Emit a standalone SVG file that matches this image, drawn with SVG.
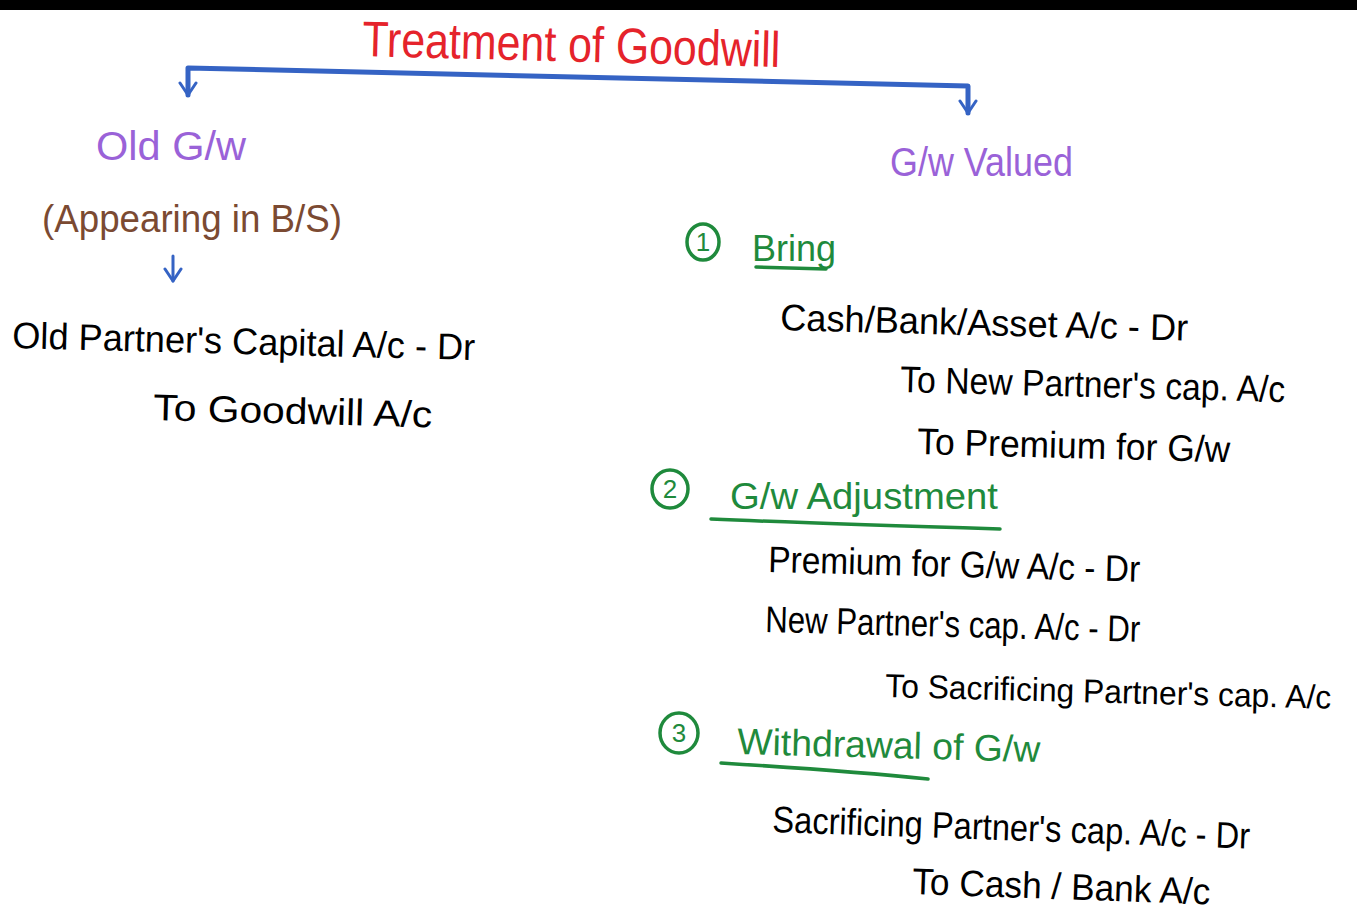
<svg xmlns="http://www.w3.org/2000/svg" width="1357" height="915" viewBox="0 0 1357 915">
  <style>
    text { font-family: "Liberation Sans", "DejaVu Sans", sans-serif; }
    .title { fill: #e5232b; font-size: 50px; }
    .head { fill: #9a62d8; font-size: 40px; }
    .note { fill: #7b4a32; font-size: 38px; }
    .entry { fill: #000; font-size: 37px; }
    .entry-long { fill: #000; font-size: 33px; }
    .step { fill: #1f8a3c; font-size: 37px; }
    .ring { fill: none; stroke: #1f8a3c; stroke-width: 3.5; }
    .rule { fill: none; stroke: #1f8a3c; stroke-width: 3.5; stroke-linecap: round; }
    .num { fill: #1f8a3c; font-size: 26px; text-anchor: middle; }
    .link { fill: none; stroke: #3563c4; stroke-width: 5; stroke-linecap: round; stroke-linejoin: round; }
    .link-thin { fill: none; stroke: #3563c4; stroke-width: 3; stroke-linecap: round; }
  </style>
  <defs>
    <marker id="vhead" viewBox="0 0 20 20" refX="17" refY="10" markerWidth="20" markerHeight="20" markerUnits="userSpaceOnUse" orient="auto-start-reverse">
      <polyline points="5,2 17,10 5,18" fill="none" stroke="#3563c4" stroke-width="3" stroke-linecap="round" stroke-linejoin="round"/>
    </marker>
  </defs>

  <rect x="0" y="0" width="1357" height="915" fill="#ffffff"/>
  <rect x="0" y="0" width="1357" height="10" fill="#000000"/>

  <!-- connectors -->
  <g id="connectors">
    <path class="link" d="M188,95 L188,68 L968,86 L968,113" marker-start="url(#vhead)" marker-end="url(#vhead)"/>
    <line class="link-thin" x1="173" y1="256" x2="173" y2="281" marker-end="url(#vhead)"/>
  </g>

  <g id="title">
    <text class="title" x="362" y="56" textLength="418" lengthAdjust="spacingAndGlyphs" transform="rotate(1.5 362 56)">Treatment of Goodwill</text>
  </g>

  <!-- left branch -->
  <g id="old-gw">
    <text class="head" x="96" y="160" textLength="150" lengthAdjust="spacingAndGlyphs">Old G/w</text>
    <text class="note" x="42" y="232" textLength="300" lengthAdjust="spacingAndGlyphs">(Appearing in B/S)</text>
  </g>
  <g id="old-entry">
    <text class="entry" x="12" y="348" textLength="463" lengthAdjust="spacingAndGlyphs" transform="rotate(1.5 12 348)">Old Partner's Capital A/c - Dr</text>
    <text class="entry" x="153" y="420" textLength="279" lengthAdjust="spacingAndGlyphs" transform="rotate(1.5 153 420)">To Goodwill A/c</text>
  </g>

  <!-- right branch -->
  <g id="gw-valued">
    <text class="head" x="890" y="176" textLength="183" lengthAdjust="spacingAndGlyphs">G/w Valued</text>
  </g>

  <g id="step-bring">
    <ellipse class="ring" cx="703" cy="242" rx="16" ry="18"/>
    <text class="num" x="703" y="251">1</text>
    <text class="step" x="752" y="261" textLength="84" lengthAdjust="spacingAndGlyphs">Bring</text>
    <line class="rule" x1="756" y1="267" x2="826" y2="269"/>
  </g>
  <g id="bring-entry">
    <text class="entry" x="780" y="330" textLength="408" lengthAdjust="spacingAndGlyphs" transform="rotate(1.5 780 330)">Cash/Bank/Asset A/c - Dr</text>
    <text class="entry" x="900" y="392" textLength="385" lengthAdjust="spacingAndGlyphs" transform="rotate(1.5 900 392)">To New Partner's cap. A/c</text>
    <text class="entry" x="917" y="454" textLength="313" lengthAdjust="spacingAndGlyphs" transform="rotate(1.5 917 454)">To Premium for G/w</text>
  </g>

  <g id="step-adjustment">
    <ellipse class="ring" cx="670" cy="489" rx="18" ry="19"/>
    <text class="num" x="670" y="498">2</text>
    <text class="step" x="730" y="509" textLength="268" lengthAdjust="spacingAndGlyphs">G/w Adjustment</text>
    <path class="rule" d="M711,519 Q800,523 1000,529"/>
  </g>
  <g id="adjustment-entry">
    <text class="entry" x="768" y="572" textLength="372" lengthAdjust="spacingAndGlyphs" transform="rotate(1.5 768 572)">Premium for G/w A/c - Dr</text>
    <text class="entry" x="765" y="632" textLength="375" lengthAdjust="spacingAndGlyphs" transform="rotate(1.5 765 632)">New Partner's cap. A/c - Dr</text>
    <text class="entry-long" x="885" y="697" textLength="446" lengthAdjust="spacingAndGlyphs" transform="rotate(1.5 885 697)">To Sacrificing Partner's cap. A/c</text>
  </g>

  <g id="step-withdrawal">
    <ellipse class="ring" cx="679" cy="733" rx="19" ry="20"/>
    <text class="num" x="679" y="742">3</text>
    <text class="step" x="737" y="754" textLength="303" lengthAdjust="spacingAndGlyphs" transform="rotate(1.5 737 754)">Withdrawal of G/w</text>
    <path class="rule" d="M721,763 Q850,771 928,779"/>
  </g>
  <g id="withdrawal-entry">
    <text class="entry" x="772" y="832" textLength="478" lengthAdjust="spacingAndGlyphs" transform="rotate(2 772 832)">Sacrificing Partner's cap. A/c - Dr</text>
    <text class="entry" x="912" y="894" textLength="298" lengthAdjust="spacingAndGlyphs" transform="rotate(2 912 894)">To Cash / Bank A/c</text>
  </g>
</svg>
